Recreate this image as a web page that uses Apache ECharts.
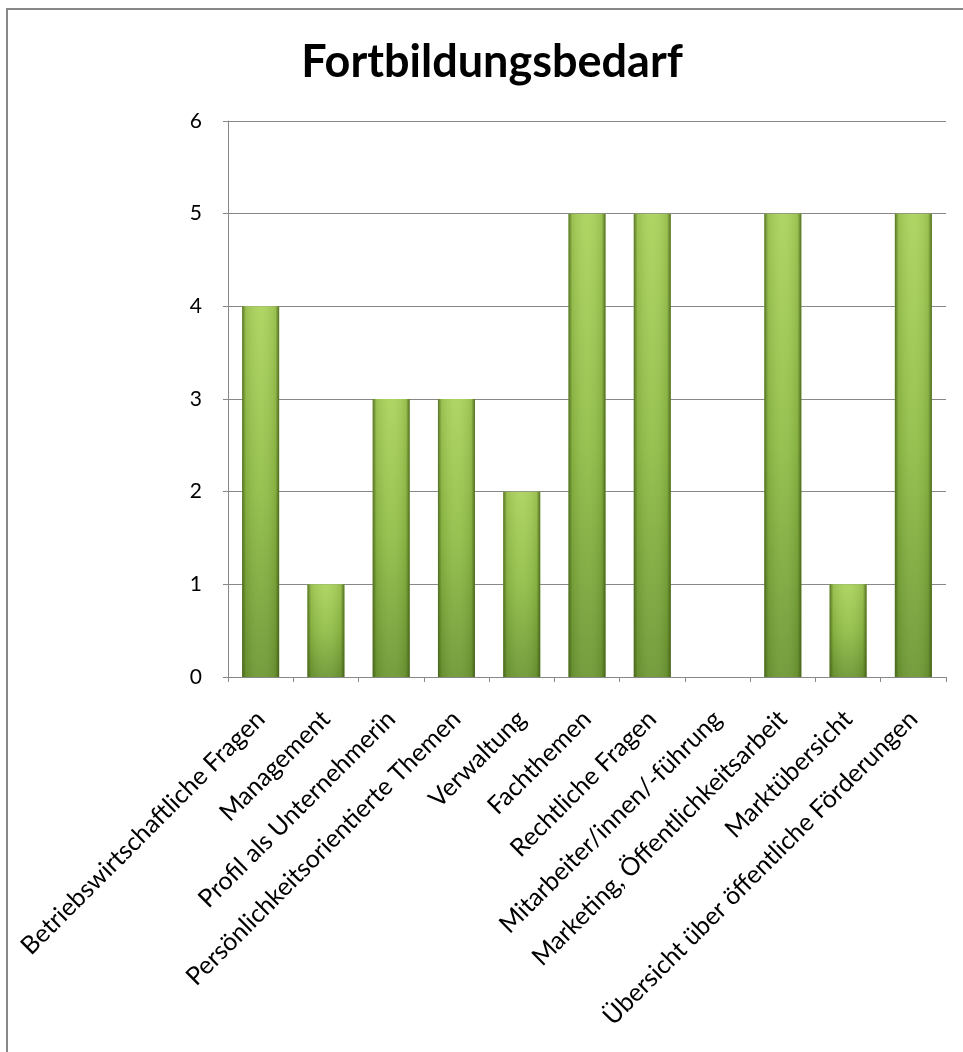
<!DOCTYPE html>
<html><head><meta charset="utf-8">
<script src="https://cdn.jsdelivr.net/npm/echarts@6/dist/echarts.min.js"></script>
<style>html,body{margin:0;padding:0;background:#fff}#c{width:963px;height:1052px}</style>
</head><body><div id="c"></div>
<script>
const title = "Fortbildungsbedarf";
const categories = ["Betriebswirtschaftliche Fragen","Management","Profil als Unternehmerin","Persönlichkeitsorientierte Themen","Verwaltung","Fachthemen","Rechtliche Fragen","Mitarbeiter/innen/-führung","Marketing, Öffentlichkeitsarbeit","Marktübersicht","Übersicht über öffentliche Förderungen"];
const values = [4,1,3,3,2,5,5,0,5,1,5];
const yMin = 0, yMax = 6, yStep = 1;

const chart = echarts.init(document.getElementById('c'), null, {renderer:'canvas'});
const font = "Lato, 'Open Sans', sans-serif";
chart.setOption({
  animation:false,
  graphic:[
    {type:'rect',shape:{x:7,y:9,width:1100,height:1200},style:{fill:'none',stroke:'#888',lineWidth:2},silent:true,z:-1},
    {type:'text',x:492,y:62,style:{text:title,fontFamily:font,fontWeight:'bold',fontSize:45,fill:'#000',textAlign:'center',textVerticalAlign:'middle'},silent:true}
  ],
  grid:{left:228,right:17,top:121,bottom:375,containLabel:false},
  xAxis:{type:'category',data:categories,
    axisLine:{lineStyle:{color:'#888',width:1}},
    axisTick:{show:true,alignWithLabel:false,length:5,lineStyle:{color:'#888'}},
    axisLabel:{rotate:45,interval:0,fontFamily:font,fontSize:25,color:'#000',margin:38}},
  yAxis:{type:'value',min:yMin,max:yMax,interval:yStep,
    axisLine:{show:true,lineStyle:{color:'#888'}},
    axisTick:{show:true,length:5,lineStyle:{color:'#888'}},
    splitLine:{lineStyle:{color:'#888',width:1}},
    axisLabel:{fontFamily:font,fontSize:21,color:'#000',margin:26}},
  series:[
    {type:'bar',data:values,barWidth:37,z:2,
      itemStyle:{color:new echarts.graphic.LinearGradient(0,0,0,1,[{offset:0,color:'#abd35c'},{offset:0.5,color:'#92bf48'},{offset:1,color:'#6e9834'}])}},
    {type:'bar',data:values,barWidth:37,barGap:'-100%',z:3,silent:true,
      itemStyle:{color:new echarts.graphic.LinearGradient(0,0,1,0,[{offset:0,color:'rgba(60,85,20,0.75)'},{offset:0.1,color:'rgba(60,85,20,0.15)'},{offset:0.5,color:'rgba(255,255,255,0.05)'},{offset:0.9,color:'rgba(60,85,20,0.15)'},{offset:1,color:'rgba(60,85,20,0.8)'}])}}
  ]
});
</script></body></html>
